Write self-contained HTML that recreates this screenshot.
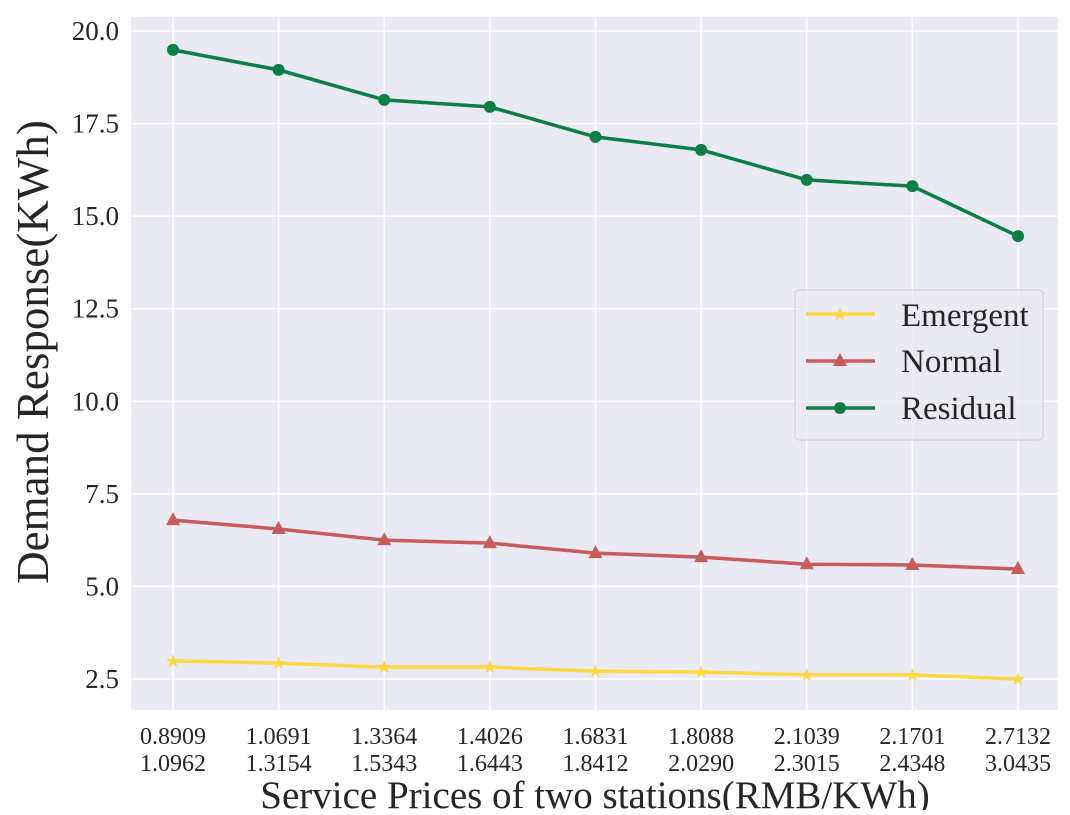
<!DOCTYPE html>
<html><head><meta charset="utf-8"><style>
body{margin:0;background:#fff;}
svg text{font-family:"Liberation Serif",serif;}
</style></head><body>
<svg id="chart" width="1070" height="810">
<rect x="131" y="17" width="927" height="693" fill="#eaeaf2"/>
<g id="grid"></g><g id="axes"></g><g id="series"></g>
<text x="595" y="808" font-size="39" fill="#262626" text-anchor="middle">Service Prices of two stations(RMB/KWh)</text>
<text transform="translate(48,352) rotate(-90)" font-size="45" fill="#262626" text-anchor="middle">Demand Response(KWh)</text>
<g>
<rect x="795" y="290" width="248" height="150" rx="4" fill="#eaeaf2" fill-opacity="0.8" stroke="#d0d0d0"/>
<g><line x1="806" y1="314" x2="875" y2="314" stroke="#fdd843" stroke-width="3.5"/><text x="840" y="320" font-size="18" style="fill:#fdd843" text-anchor="middle">★</text><text x="901" y="326" font-size="33" fill="#262626">Emergent</text></g>
<g><line x1="806" y1="361" x2="875" y2="361" stroke="#c85c5c" stroke-width="3.5"/><polygon points="840,353 847,366 833,366" fill="#c85c5c"/><text x="901" y="372" font-size="33" fill="#262626">Normal</text></g>
<g><line x1="806" y1="408" x2="875" y2="408" stroke="#0c7e48" stroke-width="3.5"/><circle cx="840" cy="408" r="6" fill="#0c7e48"/><text x="901" y="419" font-size="33" fill="#262626">Residual</text></g>
</g>
</svg>
<script>
const cats1=["0.8909","1.0691","1.3364","1.4026","1.6831","1.8088","2.1039","2.1701","2.7132"];
const cats2=["1.0962","1.3154","1.5343","1.6443","1.8412","2.0290","2.3015","2.4348","3.0435"];
const emergent=[2.99,2.93,2.82,2.82,2.71,2.69,2.61,2.61,2.50];
const normal=[6.79,6.55,6.25,6.17,5.90,5.79,5.60,5.58,5.47];
const residual=[19.49,18.95,18.14,17.95,17.14,16.79,15.98,15.81,14.46];
const yTicks=[2.5,5.0,7.5,10.0,12.5,15.0,17.5,20.0];
const NS="http://www.w3.org/2000/svg";
const xS=i=>173+i*(1018-173)/8;
const yS=v=>679-(v-2.5)*(679-31)/17.5;
function mk(tag,attrs,parent){const e=document.createElementNS(NS,tag);for(const k in attrs)e.setAttribute(k,attrs[k]);document.getElementById(parent).appendChild(e);return e;}
yTicks.forEach(t=>{
 const l=mk('line',{x1:131,x2:1058,y1:yS(t),y2:yS(t),stroke:'#fff','stroke-width':1.5},'grid');
 
 
 const tx=mk('text',{x:119,y:yS(t)+9,'font-size':27,fill:'#262626','text-anchor':'end'},'axes');tx.textContent=t.toFixed(1);
 
 
});
cats1.forEach((c,i)=>{
 const l=mk('line',{x1:xS(i),x2:xS(i),y1:17,y2:710,stroke:'#fff','stroke-width':1.5},'grid');
 
 
 const tx=mk('text',{x:xS(i),y:744,'font-size':24,fill:'#262626','text-anchor':'middle'},'axes');tx.textContent=c;
 
 
 const tx2=mk('text',{x:xS(i),y:771,'font-size':24,fill:'#262626','text-anchor':'middle'},'axes');tx2.textContent=cats2[i];
 
 
});
function draw(data,color,marker,name){
 const p=mk('polyline',{points:data.map((v,i)=>xS(i)+','+yS(v)).join(' '),fill:'none',stroke:color,'stroke-width':3.5},'series');
 
 
 data.forEach((v,i)=>{
  const x=xS(i),y=yS(v);let m;
  if(marker==='circle')m=mk('circle',{cx:x,cy:y,r:6,fill:color},'series');
  else if(marker==='tri')m=mk('polygon',{points:`${x},${y-8} ${x+7},${y+5} ${x-7},${y+5}`,fill:color},'series');
  else{m=mk('text',{x:x,y:y+6,'font-size':18,'text-anchor':'middle'},'series');m.textContent='★';m.style.fill=color;}
  
  
 });
}
draw(emergent,'#fdd843','star','emergent');
draw(normal,'#c85c5c','tri','normal');
draw(residual,'#0c7e48','circle','residual');
</script>
</body></html>
